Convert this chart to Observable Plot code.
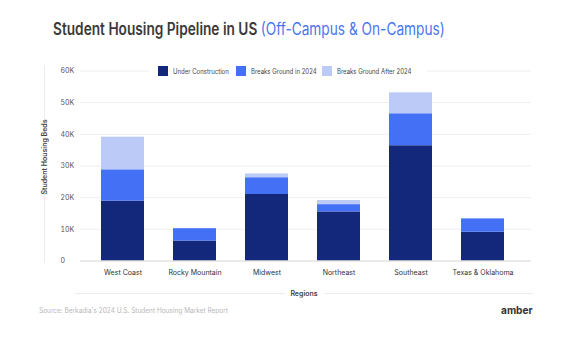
<!DOCTYPE html>
<html>
<head>
<meta charset="utf-8">
<script src="https://cdn.jsdelivr.net/npm/d3@7"></script>
<script src="https://cdn.jsdelivr.net/npm/@observablehq/plot@0.6"></script>
<style>
  html, body { margin: 0; padding: 0; background: #fff; }
  #wrap { position: relative; width: 582px; height: 339px; font-family: Inter, "Noto Sans", sans-serif; overflow: hidden; }
  #chart { position: absolute; left: 0; top: 0; }
  .abs { position: absolute; white-space: nowrap; }
  #title { left: 53px; top: 19px; font-size: 17px; font-weight: 600; color: #3a3a3a; transform: scaleX(0.805); transform-origin: 0 0; }
  #title span { color: #4a74f2; font-weight: 400; }
  #legendbg { left: 149px; top: 64px; width: 278px; height: 14px; background: #fff; }
  .litem { position: absolute; top: 66.5px; height: 9px; display: flex; align-items: center; font-size: 7px; color: #444; }
  .litem .sw { width: 9.5px; height: 9.5px; margin-right: 5px; flex: none; }
  .litem span { display: inline-block; transform: scaleX(0.86); transform-origin: 0 50%; }
  .vline { position: absolute; width: 1px; background: #ececec; left: 44px; }
  .hline { position: absolute; height: 1px; background: #ececec; top: 293px; }
  #ytitle { left: 44px; top: 157px; transform: translate(-50%, -50%) rotate(-90deg); font-size: 7px; font-weight: 600; color: #444; }
  #xtitle { left: 304px; top: 293px; transform: translate(-50%, -50%); font-size: 7px; font-weight: 600; color: #444; }
  #source { left: 39px; top: 306px; font-size: 7px; color: #b8b8b8; transform: scaleX(0.93); transform-origin: 0 0; }
  #brand { left: 501px; top: 303px; font-size: 11px; font-weight: 700; color: #333; transform: scaleX(0.92); transform-origin: 0 0; }
</style>
</head>
<body>
<div id="wrap">
  <div id="chart"></div>
  <div id="title" class="abs">Student Housing Pipeline in US <span>(Off-Campus &amp; On-Campus)</span></div>
  <div id="legendbg" class="abs"></div>
  <div id="legend"></div>
  <div class="vline" style="top:65px;height:57px"></div>
  <div class="vline" style="top:192px;height:71px"></div>
  <div id="ytitle" class="abs">Student Housing Beds</div>
  <div class="hline" style="left:75px;width:210px"></div>
  <div class="hline" style="left:324px;width:209px"></div>
  <div id="xtitle" class="abs">Regions</div>
  <div id="source" class="abs">Source: Berkadia's 2024 U.S. Student Housing Market Report</div>
  <div id="brand" class="abs">amber</div>
</div>
<script>
const regions = ["West Coast", "Rocky Mountain", "Midwest", "Northeast", "Southeast", "Texas & Oklahoma"];
const seriesNames = ["Under Construction", "Breaks Ground in 2024", "Breaks Ground After 2024"];
const seriesColors = ["#13287a", "#4470f5", "#bccaf8"];
const underConstruction = [18900, 6300, 21000, 15500, 36400, 9100];
const breaksGround2024 = [9900, 3900, 5300, 2300, 10100, 4200];
const breaksGroundAfter2024 = [10300, 0, 1200, 1300, 6600, 0];
const yTicks = [0, 10000, 20000, 30000, 40000, 50000, 60000];
const yTickLabels = ["0", "10K", "20K", "30K", "40K", "50K", "60K"];

const seriesValues = [underConstruction, breaksGround2024, breaksGroundAfter2024];
const data = [];
seriesNames.forEach((s, si) => {
  regions.forEach((r, ri) => data.push({region: r, series: s, value: seriesValues[si][ri]}));
});

const chart = Plot.plot({
  width: 582,
  height: 339,
  marginTop: 70.5,
  marginBottom: 78.5,
  marginLeft: 80,
  marginRight: 51,
  style: {fontFamily: "Inter, 'Noto Sans', sans-serif", fontSize: "7px", color: "#444", background: "transparent"},
  x: {domain: regions, paddingInner: 0.4, paddingOuter: 0.3, align: 0.43, label: null},
  y: {domain: [0, 60000], label: null},
  color: {domain: seriesNames, range: seriesColors},
  marks: [
    Plot.gridY(yTicks, {stroke: "#eeeeee", strokeOpacity: 1, strokeWidth: 1}),
    Plot.axisY(yTicks, {tickSize: 0, tickPadding: 20, textAnchor: "start", tickFormat: (d) => yTickLabels[yTicks.indexOf(d)], label: null, fill: "#555"}),
    Plot.axisX({tickSize: 0, tickPadding: 9, label: null, fill: "#333"}),
    Plot.barY(data, {x: "region", y: "value", fill: "series", order: seriesNames}),
    Plot.ruleY([0], {stroke: "#dddddd"})
  ]
});
document.getElementById("chart").appendChild(chart);

const legendX = [158, 236, 322];
const legend = document.getElementById("legend");
seriesNames.forEach((s, i) => {
  const it = document.createElement("div");
  it.className = "litem";
  it.style.left = legendX[i] + "px";
  it.innerHTML = `<div class="sw" style="background:${seriesColors[i]}"></div><span>${s}</span>`;
  legend.appendChild(it);
});
</script>
</body>
</html>
